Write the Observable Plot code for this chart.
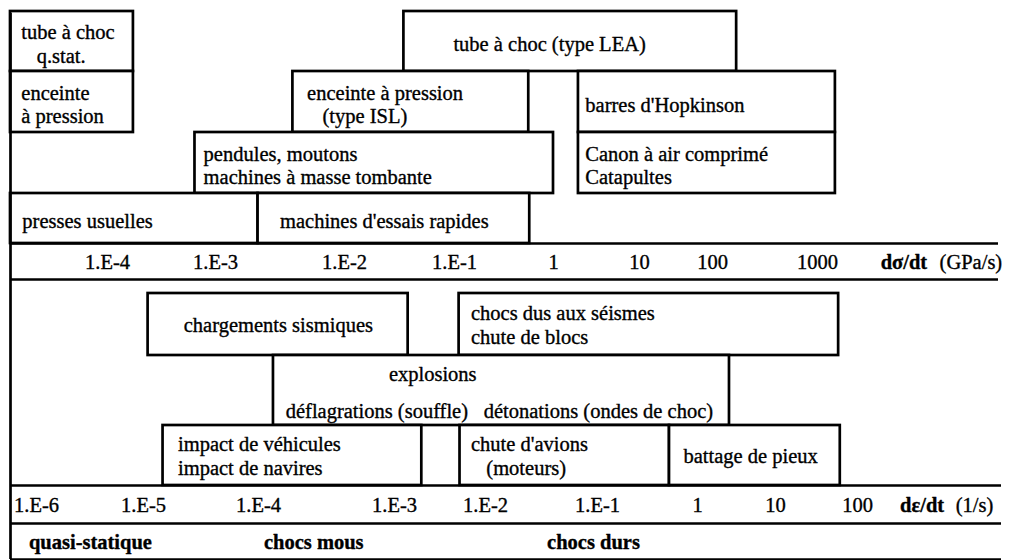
<!DOCTYPE html>
<html><head><meta charset="utf-8">
<script src="https://cdn.jsdelivr.net/npm/d3@7"></script>
<script src="https://cdn.jsdelivr.net/npm/@observablehq/plot@0.6"></script>
<style>
body{margin:0;background:#fff;}
#chart svg{display:block;overflow:visible;font-family:'Liberation Serif','Times New Roman',serif;}
</style></head><body><div id="chart"></div>
<script>
// All x values are log10 exponents of the rate.
// ---------- TOP PANEL : stress rate dσ/dt (GPa/s) ----------
const topTickExp   = [-4, -3, -2, -1, 0, 1, 2, 3];
const topTickLabel = ["1.E-4", "1.E-3", "1.E-2", "1.E-1", "1", "10", "100", "1000"];
const topUnit      = ["dσ/dt", "(GPa/s)"];
const topUnitExp   = [3.60, 4.16];
const topBoxLabel  = ["tube à choc\n\u00a0\u00a0\u00a0q.stat.", "enceinte\nà pression", "tube à choc (type LEA)",
  "enceinte à pression\n\u00a0\u00a0\u00a0(type ISL)", "barres d'Hopkinson", "Canon à air comprimé\nCatapultes",
  "pendules, moutons\nmachines à masse tombante", "presses usuelles", "machines d'essais rapides"];
const topBoxFrom   = [-4.90, -4.90, -1.46, -2.40, 0.29, 0.29, -3.19, -4.90, -2.67];
const topBoxTo     = [-3.76, -3.76,  2.23, -0.25, 3.17, 3.17,  0.00, -2.67, -0.24];
const topBoxRow    = [4, 3, 4, 3, 3, 2, 2, 1, 1];
const topLabelAt   = [-4.80, -4.80, -1.01, -2.29, 0.37, 0.37, -3.11, -4.79, -2.50];
const topExtent    = [-4.90, 4.72];

// ---------- BOTTOM PANEL : strain rate dε/dt (1/s) ----------
const botTickExp   = [-6, -5, -4, -3, -2, -1, 0, 1, 2];
const botTickLabel = ["1.E-6", "1.E-5", "1.E-4", "1.E-3", "1.E-2", "1.E-1", "1", "10", "100"];
const botUnit      = ["dε/dt", "(1/s)"];
const botUnitExp   = [2.52, 3.20];
const botBoxLabel  = ["chargements sismiques", "chocs dus aux séismes\nchute de blocs", "",
  "impact de véhicules\nimpact de navires", "chute d'avions\n\u00a0\u00a0\u00a0(moteurs)", "battage de pieux"];
const botBoxFrom   = [-4.96, -2.29, -3.89, -4.83, -2.28, -0.28];
const botBoxTo     = [-2.85,  1.77,  0.41, -2.70, -0.28,  1.79];
const botBoxRow    = [4, 4, 3, 2, 2, 2];
const botLabelAt   = [-4.65, -2.16, -3.89, -4.70, -2.16, -0.14];
const explLabel    = ["explosions", "déflagrations (souffle)", "détonations (ondes de choc)"];
const explExp      = [-2.58, -3.80, -2.02];
const explLevel    = [3.74, 3.21, 3.21];
const regimeLabel  = ["quasi-statique", "chocs mous", "chocs durs"];
const regimeExp    = [-6.07, -3.96, -1.45];
const botExtent    = [-6.24, 3.76];

const FONT = "'Liberation Serif', 'Times New Roman', serif";
const FS = 20.5, SW = 2.7;

const zip = (lab, a, b, r, t) => lab.map((l, i) => ({label: l, lo: a[i], hi: b[i], row: r[i], at: t[i]}));
const topBoxes = zip(topBoxLabel, topBoxFrom, topBoxTo, topBoxRow, topLabelAt);
const botBoxes = zip(botBoxLabel, botBoxFrom, botBoxTo, botBoxRow, botLabelAt);
const topTicks = topTickExp.map((e, i) => ({e, label: topTickLabel[i]}));
const botTicks = botTickExp.map((e, i) => ({e, label: botTickLabel[i]}));

const textOpts = {fontFamily: FONT, fontSize: FS, fill: "black", stroke: "black", strokeWidth: 0.35, lineHeight: 1.15};

const topPanel = Plot.plot({
  width: 1029, height: 280, margin: 0,
  x: {type: "linear", domain: [topExtent[0], -4, -3, -2, -1, 0, 1, 2, 3, topExtent[1]],
      range: [10, 107, 215, 344, 454, 553, 639, 712, 817, 998], axis: null},
  y: {type: "linear", domain: [0, 1, 2, 3, 4, 5], range: [279, 243, 193, 132, 71, 11], axis: null},
  marks: [
    Plot.rect(topBoxes, {x1: "lo", x2: "hi", y1: "row", y2: d => d.row + 1, fill: "white", stroke: "black", strokeWidth: SW}),
    Plot.ruleY([0, 1], {x1: topExtent[0], x2: topExtent[1], stroke: "black", strokeWidth: SW}),
    Plot.ruleX([topExtent[0]], {y1: 0, y2: 4.97, stroke: "black", strokeWidth: SW}),
    Plot.text(topBoxes, {x: "at", y: d => d.row + 0.5, dy: 2, text: "label", textAnchor: "start", ...textOpts}),
    Plot.text(topTicks, {x: "e", y: 0.5, text: "label", ...textOpts}),
    Plot.text([topUnit[0]], {x: topUnitExp[0], y: 0.5, text: d => d, textAnchor: "start", fontWeight: "bold", ...textOpts}),
    Plot.text([topUnit[1]], {x: topUnitExp[1], y: 0.5, text: d => d, textAnchor: "start", ...textOpts})
  ]
});

const botPanel = Plot.plot({
  width: 1029, height: 280, margin: 0,
  x: {type: "linear", domain: [botExtent[0], -6, -5, -4, -3, -2, -1, 0, 1, 2, botExtent[1]],
      range: [10, 36, 143, 258, 394, 485, 597, 697, 775, 857, 1001], axis: null},
  y: {type: "linear", domain: [0, 1, 2, 3, 4, 5, 6], range: [279, 243, 205, 145, 75, 13, -1], axis: null},
  marks: [
    Plot.rect(botBoxes, {x1: "lo", x2: "hi", y1: "row", y2: d => d.row + 1, fill: "white", stroke: "black", strokeWidth: SW}),
    Plot.ruleY([0, 1, 2], {x1: botExtent[0], x2: botExtent[1], stroke: "black", strokeWidth: SW}),
    Plot.ruleX([botExtent[0]], {y1: 0, y2: 6, stroke: "black", strokeWidth: SW}),
    Plot.text(botBoxes.filter(d => d.label), {x: "at", y: d => d.row + 0.5, text: "label", textAnchor: "start", ...textOpts}),
    Plot.text(explLabel.slice(0, 1), {x: explExp[0], y: explLevel[0], text: d => d, ...textOpts}),
    Plot.text(explLabel.slice(1), {x: (d, i) => explExp[i + 1], y: (d, i) => explLevel[i + 1], text: d => d, textAnchor: "start", ...textOpts}),
    Plot.text(botTicks, {x: "e", y: 1.5, text: "label", ...textOpts}),
    Plot.text([botUnit[0]], {x: botUnitExp[0], y: 1.5, text: d => d, textAnchor: "start", fontWeight: "bold", ...textOpts}),
    Plot.text([botUnit[1]], {x: botUnitExp[1], y: 1.5, text: d => d, textAnchor: "start", ...textOpts}),
    Plot.text(regimeLabel, {x: (d, i) => regimeExp[i], y: 0.5, text: d => d, textAnchor: "start", fontWeight: "bold", ...textOpts})
  ]
});

document.getElementById("chart").append(topPanel, botPanel);
</script></body></html>
